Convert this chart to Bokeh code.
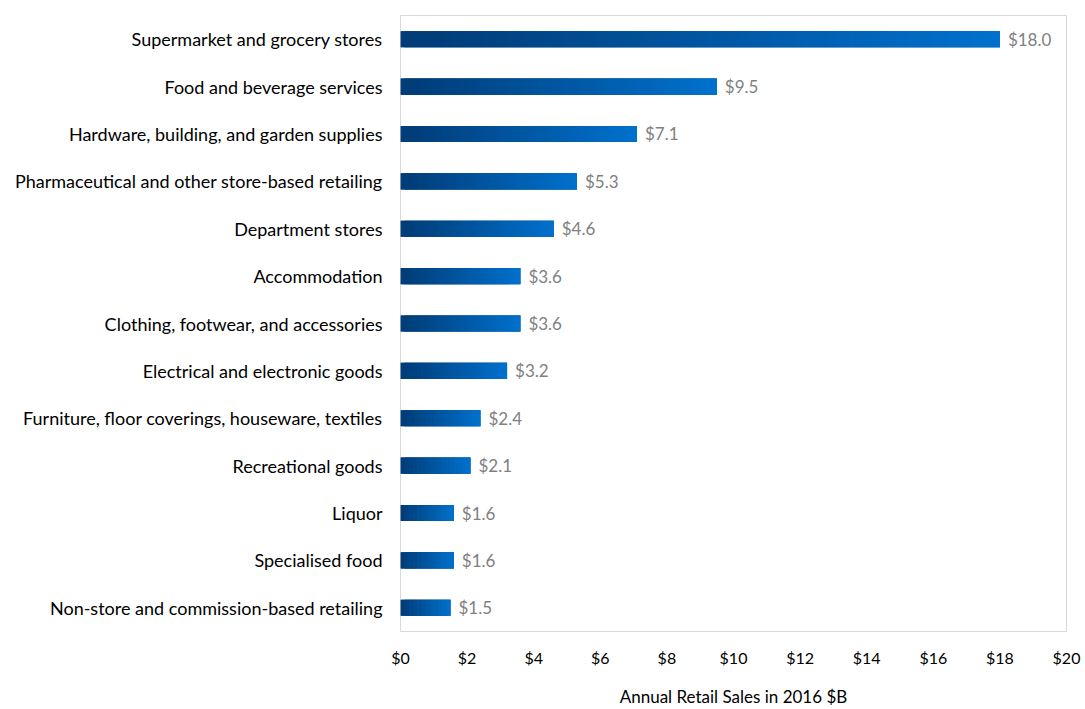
from bokeh.plotting import figure
from bokeh.models import FactorRange, Range1d, FixedTicker, NumeralTickFormatter, ColumnDataSource
from bokeh.core.properties import value
from bokeh.embed import file_html
from bokeh.resources import INLINE

categories = [
    "Supermarket and grocery stores",
    "Food and beverage services",
    "Hardware, building, and garden supplies",
    "Pharmaceutical and other store-based retailing",
    "Department stores",
    "Accommodation",
    "Clothing, footwear, and accessories",
    "Electrical and electronic goods",
    "Furniture, floor coverings, houseware, textiles",
    "Recreational goods",
    "Liquor",
    "Specialised food",
    "Non-store and commission-based retailing",
]
sales = [18.0, 9.5, 7.1, 5.3, 4.6, 3.6, 3.6, 3.2, 2.4, 2.1, 1.6, 1.6, 1.5]
x_ticks = [0, 2, 4, 6, 8, 10, 12, 14, 16, 18, 20]

FONT = "Lato"
dark = (0x00, 0x3d, 0x79)
bright = (0x00, 0x71, 0xcd)
BAR_H = 0.34

p = figure(
    width=1085, height=709,
    y_range=FactorRange(factors=list(reversed(categories))),
    x_range=Range1d(0, 20),
    output_backend="svg", toolbar_location=None,
    min_border_left=400, min_border_right=19, min_border_top=15, min_border_bottom=77,
)
p.outline_line_color = "#d9d9d9"
p.outline_line_width = 1
p.xgrid.visible = False
p.ygrid.visible = False

def mix(t):
    return "#%02x%02x%02x" % tuple(int(round(dark[k] + (bright[k] - dark[k]) * t)) for k in range(3))

# base bars in the start tone
p.hbar(y=categories, left=0, right=sales, height=BAR_H, fill_color=mix(0.0), line_color=None)

# gradient slices (each overlaps the next), dark at the bar start to bright at the bar end
ys, lefts, rights, colors = [], [], [], []
for cat, v in zip(categories, sales):
    n = max(10, int(round(v * 8)))
    step = v / n
    for i in range(n):
        t = (i + 0.5) / n
        t2 = max(0.0, (t - 0.04) / 0.96)
        ys.append(cat)
        lefts.append(i * step)
        rights.append(min(v, (i + 2) * step))
        colors.append(mix(t2))
src = ColumnDataSource(dict(y=ys, left=lefts, right=rights, color=colors))
p.hbar(y="y", left="left", right="right", height=BAR_H, fill_color="color", line_color=None, source=src)

lab = ColumnDataSource(dict(y=categories, x=sales, t=["$%.1f" % v for v in sales]))
p.text(x="x", y="y", text="t", source=lab, x_offset=8, text_baseline="middle", text_align="left",
       text_color="#808080", text_font=value(FONT), text_font_size="17px")

p.xaxis.ticker = FixedTicker(ticks=x_ticks)
p.xaxis.formatter = NumeralTickFormatter(format="$0")
p.xaxis.axis_line_color = None
p.xaxis.major_tick_line_color = None
p.xaxis.minor_tick_line_color = None
p.xaxis.major_label_standoff = 10
p.xaxis.major_label_text_font = FONT
p.xaxis.major_label_text_font_size = "16px"
p.xaxis.major_label_text_color = "#000000"
p.xaxis.axis_label = "Annual Retail Sales in 2016 $B"
p.xaxis.axis_label_text_font = FONT
p.xaxis.axis_label_text_font_size = "17px"
p.xaxis.axis_label_text_font_style = "normal"
p.xaxis.axis_label_text_color = "#000000"
p.xaxis.axis_label_standoff = 16

p.yaxis.axis_line_color = None
p.yaxis.major_tick_line_color = None
p.yaxis.minor_tick_line_color = None
p.yaxis.major_label_standoff = 12
p.yaxis.major_label_text_font = FONT
p.yaxis.major_label_text_font_size = "18px"
p.yaxis.major_label_text_color = "#000000"

open("out.html", "w").write(file_html(p, INLINE))
